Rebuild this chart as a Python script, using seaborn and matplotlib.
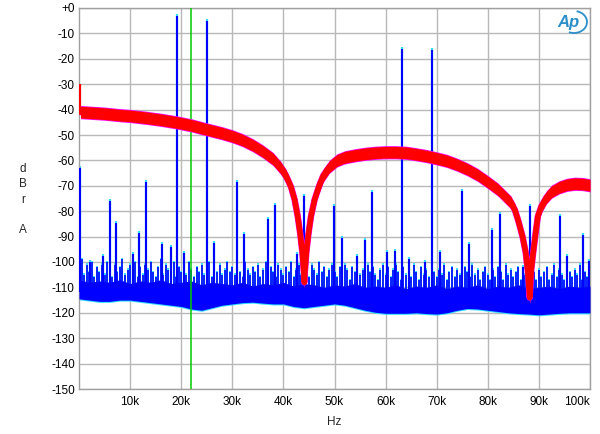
import numpy as np
import pandas as pd
import seaborn as sns
import matplotlib.pyplot as plt
from matplotlib.patches import Arc

# ---- data (kHz / dBrA) ----
# red trace: centre of the noisy band
red_f = [0.3, 2, 5, 8, 10, 13, 16, 19, 22, 25, 28, 30, 32, 34, 36, 38, 39.5, 40.5, 41.5,
         42.2, 42.8, 43.3, 43.7, 44.0, 44.1, 44.2, 44.5, 44.9, 45.4, 46.1, 47.0, 47.8, 49.0,
         50.5, 52, 54, 56, 58, 60, 62, 64, 66, 68, 70, 72, 74, 76, 78, 80, 82, 83.5, 84.5,
         85.3, 86, 86.8, 87.4, 87.8, 88.2, 88.5, 88.9, 89.4, 89.8, 90.5, 91.5, 92.5, 94,
         95.5, 97, 98.5, 100]
red_db = [-41.0, -41.2, -41.6, -42.2, -42.5, -43.2, -44.0, -45.0, -46.2, -47.8, -49.3, -50.5,
          -52, -54, -56.5, -59.5, -63, -66, -70.5, -75.5, -82, -89, -96, -104, -108, -104, -96,
          -89, -82, -75.5, -70, -66, -62.5, -60, -58.8, -58, -57.4, -57, -56.8, -56.8, -57.0,
          -57.6, -58.3, -59.2, -60.2, -61.7, -63.5, -65.7, -68.5, -71.5, -74.5, -76.5, -79.5,
          -84, -90, -96, -103, -114, -103, -96, -88, -82, -78, -74.5, -72.3, -70.6, -69.6,
          -69.2, -69.3, -69.8]
red_dc = -30

# blue trace: noise floor (2 kHz grid), bottom edge and solid top
noise_f = list(range(0, 101, 2))
noise_bot = [-114.5, -115, -115.5, -115.5, -115, -115, -115.5, -116, -116.5, -117, -117.5,
             -118.5, -119, -118, -117, -116.5, -116, -115.8, -116.2, -116.5, -116.5, -117.5,
             -118, -117.5, -117, -116.5, -117, -118, -119, -119.8, -120.2, -120.2, -120.2,
             -120, -120.3, -120.5, -120, -119, -118.3, -118.5, -119, -119.5, -120, -120.3,
             -120.5, -120.8, -120.5, -120.2, -120, -120, -120]
noise_top = [-107, -108, -107.5, -108, -107, -108.5, -107.5, -108, -107, -108.5,
             -108, -107.5, -109, -108, -108.5, -109, -108, -109.5, -108.5, -109,
             -108, -109.5, -108.5, -109, -110, -109, -109.5, -108.5, -110, -109.5,
             -110, -109, -110.5, -109.5, -110, -109, -110.5, -109.5, -110, -109,
             -110.5, -109.5, -110, -109, -110.5, -110, -109.5, -110.5, -109.5, -110,
             -109.5]

# noise "grass" peaks (0.5 kHz grid)
grass_f = [i * 0.5 for i in range(201)]
grass_db = [-103, -99, -105, -101, -104, -100, -106, -102, -104, -101, -105, -100, -103, -106, -101, -104, -102, -99, -105, -103,
            -101, -104, -100, -106, -102, -105, -101, -103, -100, -104, -106, -102, -99, -105, -101, -103, -104, -100, -106, -102,
            -104, -101, -105, -100, -103, -106, -102, -104, -101, -105, -103, -100, -106, -102, -104, -101, -105, -103, -100, -104,
            -102, -105, -101, -104, -106, -100, -103, -105, -102, -104, -101, -106, -103, -100, -105, -102, -104, -106, -101, -103,
            -105, -102, -104, -100, -106, -103, -101, -105, -102, -104, -106, -101, -103, -105, -100, -104, -102, -106, -103, -101,
            -104, -106, -102, -105, -101, -103, -107, -102, -104, -100, -105, -103, -106, -101, -104, -102, -105, -107, -103, -101,
            -105, -102, -106, -103, -101, -104, -107, -102, -105, -103, -106, -101, -104, -107, -102, -105, -103, -106, -101, -104,
            -106, -103, -105, -101, -107, -104, -102, -106, -103, -105, -107, -102, -104, -106, -101, -105, -103, -107, -104, -102,
            -105, -107, -103, -106, -102, -104, -107, -101, -105, -103, -106, -104, -102, -107, -105, -103, -106, -101, -104, -107,
            -103, -106, -104, -102, -107, -105, -101, -106, -103, -105, -107, -102, -104, -106, -103, -105, -101, -107, -104, -106,
            -104]

# tones and distortion products
spike_f = [0.15, 2.2, 4.6, 6.0, 7.3, 10.5, 11.8, 13.2, 16.3, 18.0, 19.1, 20.5, 25.0, 26.4,
           31.0, 32.3, 36.9, 38.3, 42.7, 44.1, 49.9, 51.4, 54.4, 55.9, 57.3, 60.3, 61.8,
           63.2, 64.5, 67.7, 69.1, 70.6, 75.0, 76.4, 80.9, 82.3, 86.8, 88.2, 94.1, 95.5,
           98.6, 99.9]
spike_db = [-63, -100, -97.5, -76, -84.5, -97, -88.5, -68.5, -93, -94, -3, -96.5, -5, -92.5,
            -68.5, -89, -83, -77.5, -97, -74, -78, -90.5, -97.5, -91.5, -72.5, -96, -95.5,
            -16, -99, -100, -16.5, -96, -72, -93, -87.5, -81, -102, -78, -82, -97.5,
            -89.5, -99.5]

marker_f = 22.0

x_ticks = list(range(10, 101, 10))
x_labels = [f'{t}k' for t in x_ticks]
y_ticks = list(range(0, -151, -10))
y_labels = ['+0'] + [str(t) for t in y_ticks[1:]]

red = pd.DataFrame({'f': red_f, 'db': red_db})
noise = pd.DataFrame({'f': noise_f, 'lo': noise_bot, 'hi': noise_top})

# ---- style ----
sns.set_style('white')
plt.rcParams['font.family'] = ['Liberation Sans', 'DejaVu Sans']

fig = plt.figure(figsize=(6, 4.34), dpi=100)
ax = fig.add_axes([79 / 600, 1 - 389 / 434, 511 / 600, 381 / 434])

# blue channel (cyan ghost underneath)
ax.fill_between(noise['f'], noise['lo'] - 0.4, noise['hi'], color='#33ddff', lw=0, zorder=2)
ax.vlines(grass_f, -115, np.array(grass_db) + 0.5, color='#33ddff', lw=1.3, zorder=2)
ax.vlines(spike_f, -115, np.array(spike_db) + 0.8, color='#33ddff', lw=1.6, zorder=2)
ax.fill_between(noise['f'], noise['lo'], noise['hi'], color='#0000ff', lw=0, zorder=3)
ax.vlines(grass_f, -112, grass_db, color='#0000ff', lw=1.2, zorder=3)
ax.vlines(spike_f, -112, spike_db, color='#0000ff', lw=1.5, zorder=3)

# green marker
ax.axvline(marker_f, color='#00cc00', lw=1.1, zorder=4)

# red channel (magenta ghost underneath)
ax.fill_between(red['f'], red['db'] - 2.6, red['db'] + 2.6, color='#ff00ff', lw=0, zorder=5)
sns.lineplot(data=red, x='f', y='db', color='#ff00ff', lw=4.6, ax=ax, zorder=5,
             solid_joinstyle='round')
ax.fill_between(red['f'], red['db'] - 2.3, red['db'] + 2.3, color='#ff0000', lw=0, zorder=6)
sns.lineplot(data=red, x='f', y='db', color='#ff0000', lw=4.0, ax=ax, zorder=6,
             solid_joinstyle='round')
ax.vlines([0.15], red_db[0], red_dc, color='#ff0000', lw=1.6, zorder=6)

# axes
ax.set_xlim(0, 100)
ax.set_ylim(-150, 0)
ax.set_xticks(x_ticks)
ax.set_xticklabels(x_labels)
ax.get_xticklabels()[-1].set_ha('right')
ax.set_yticks(y_ticks)
ax.set_yticklabels(y_labels)
ax.set_xticks(np.arange(0, 101, 1), minor=True)
ax.set_yticks(np.arange(-150, 1, 1), minor=True)
ax.tick_params(axis='both', which='major', length=0, labelsize=8.5, colors='black')
ax.tick_params(axis='y', which='major', pad=3)
ax.tick_params(axis='x', which='major', pad=5)
ax.tick_params(axis='x', which='minor', direction='in', length=9.5, width=0.6,
               color='#bdbdbd')
ax.tick_params(axis='y', which='minor', direction='in', length=3.5, width=0.6,
               color='#bdbdbd')
ax.grid(True, which='major', color='#b8b8b8', lw=1.0)
ax.set_axisbelow(True)
for s in ax.spines.values():
    s.set_color('#a0a0a0')
    s.set_linewidth(1.0)
ax.set_xlabel('Hz', fontsize=8.5, labelpad=6)
ax.set_ylabel('')

fig.text(22.7 / 600, 1 - 199.5 / 434, 'd\nB\nr\n\nA', ha='center', va='center',
         fontsize=8.5, linespacing=1.35)

# Ap logo
fig.text(568 / 600, 1 - 23 / 434, 'Ap', ha='center', va='center', fontsize=12,
         fontstyle='italic', fontweight='bold', color='#2a8fcb')
fig.add_artist(Arc((574 / 600, 1 - 22 / 434), 26 / 600, 22 / 434, theta1=-110, theta2=80,
                   transform=fig.transFigure, color='#2a8fcb', lw=1.3))

fig.savefig('out.png', dpi=100)
